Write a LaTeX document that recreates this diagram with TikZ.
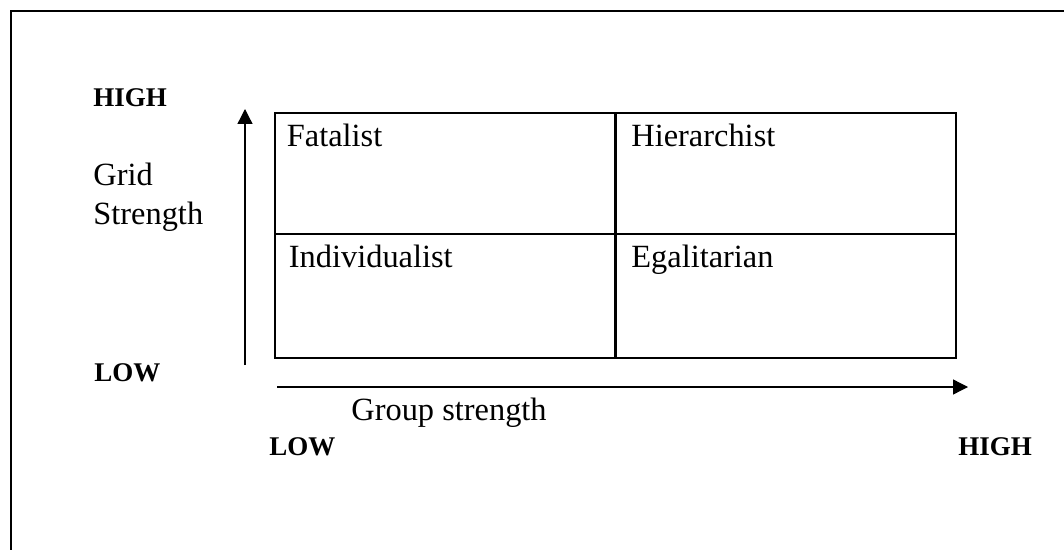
\documentclass[tikz,border=0pt]{standalone}
\usepackage{fontspec}
\setmainfont{Liberation Serif}
\usetikzlibrary{arrows.meta,calc}
\tikzset{
  cell/.style={draw=black, line width=1pt, inner sep=0pt, minimum width=170.5pt},
  toprow/.style={minimum height=60.5pt},
  botrow/.style={minimum height=62pt},
  lbl/.style={inner sep=0pt, anchor=base west, font=\fontsize{16.2}{19}\selectfont},
  blbl/.style={inner sep=0pt, anchor=base west, font=\fontsize{13.5}{16}\selectfont\bfseries},
  axis/.style={line width=0.65pt, -{Triangle[length=7.5pt,width=7.5pt]}},
  frame/.style={line width=1pt}
}
\begin{document}
\begin{tikzpicture}[x=0.5pt,y=-0.5pt]
\useasboundingbox (0,0) rectangle (1064,550);
% outer frame (right and bottom edges lie outside the picture)
\coordinate (fr1) at (1064,11);
\coordinate (fr2) at (11,11);
\coordinate (fr3) at (11,550);
\draw[frame] (fr1) -- (fr2) -- (fr3);
% cells
\node[cell,toprow] (fat) at (445,173.5) {};
\node[cell,toprow] (hie) at (785.5,173.5) {};
\node[cell,botrow] (ind) at (445,296) {};
\node[cell,botrow] (ega) at (785.5,296) {};
\node[lbl] (tfat) at ($(fat.north west)+(13,35)$) {Fatalist};
\node[lbl] (thie) at ($(hie.north west)+(17,35)$) {Hierarchist};
\node[lbl] (tind) at ($(ind.north west)+(15,35)$) {Individualist};
\node[lbl] (tega) at ($(ega.north west)+(17,35)$) {Egalitarian};
% axes
\coordinate (ybot) at (245,365);
\coordinate (ytop) at (245,109);
\draw[axis] (ybot) -- (ytop);
\coordinate (xleft) at (277,387);
\coordinate (xright) at (968,387);
\draw[axis] (xleft) -- (xright);
% axis labels
\node[blbl] (yhigh) at (93,107) {HIGH};
\node[lbl] (grid) at (93,186) {Grid};
\node[lbl] (gstr) at (93,225) {Strength};
\node[blbl] (ylow) at (94,381) {LOW};
\node[lbl] (grp) at (351,420) {Group strength};
\node[blbl] (xlow) at (269,455) {LOW};
\node[blbl] (xhigh) at (958,455) {HIGH};
\end{tikzpicture}
\end{document}
